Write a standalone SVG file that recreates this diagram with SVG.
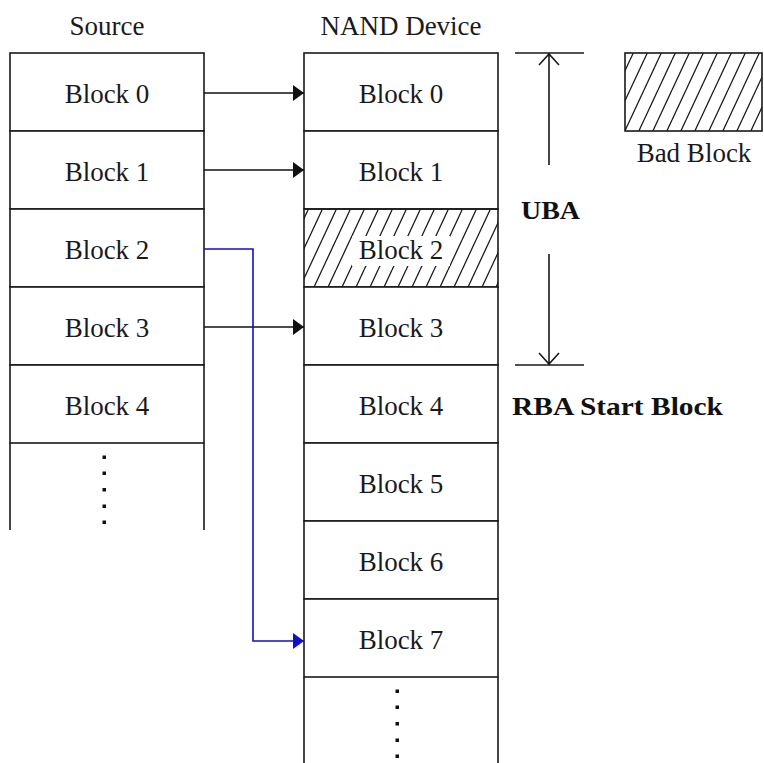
<svg xmlns="http://www.w3.org/2000/svg" width="764" height="763" viewBox="0 0 764 763">
<style>
  .box { fill: #fff; stroke: #1a1a1a; stroke-width: 1.6; }
  .ln { stroke: #1a1a1a; stroke-width: 1.6; fill: none; }
  .t { font-family: "Liberation Serif", "DejaVu Serif", serif; font-size: 27px; fill: #1a1a1a; text-anchor: middle; }
  .b { font-family: "Liberation Serif", "DejaVu Serif", serif; font-size: 25px; font-weight: bold; fill: #111; }
  .conn { stroke: #111; stroke-width: 1.6; fill: none; }
  .blue { stroke: #1010c8; stroke-width: 1.6; fill: none; }
  .dot { fill: #111; }
</style>
<defs>
  <pattern id="hatch" patternUnits="userSpaceOnUse" width="14" height="30">
    <path d="M0,30 L14,0 M-14,30 L0,0 M14,30 L28,0" stroke="#1a1a1a" stroke-width="1.3"/>
  </pattern>
  <marker id="ah" viewBox="0 0 11 16" refX="11" refY="8" markerUnits="userSpaceOnUse" markerWidth="11" markerHeight="16" orient="auto">
    <path d="M0,0 L11,8 L0,16 Z" fill="#111"/>
  </marker>
  <marker id="ahb" viewBox="0 0 11 16" refX="11" refY="8" markerUnits="userSpaceOnUse" markerWidth="11" markerHeight="16" orient="auto">
    <path d="M0,0 L11,8 L0,16 Z" fill="#1010c8"/>
  </marker>
</defs>
<rect width="764" height="763" fill="#fff"/>

<text class="t" x="107" y="35">Source</text>
<text class="t" x="401" y="35">NAND Device</text>

<g id="source">
  <g id="src-block0"><rect class="box" x="10" y="53" width="194" height="78"/><text class="t" x="107" y="103">Block 0</text></g>
  <g id="src-block1"><rect class="box" x="10" y="131" width="194" height="78"/><text class="t" x="107" y="181">Block 1</text></g>
  <g id="src-block2"><rect class="box" x="10" y="209" width="194" height="78"/><text class="t" x="107" y="259">Block 2</text></g>
  <g id="src-block3"><rect class="box" x="10" y="287" width="194" height="78"/><text class="t" x="107" y="337">Block 3</text></g>
  <g id="src-block4"><rect class="box" x="10" y="365" width="194" height="78"/><text class="t" x="107" y="415">Block 4</text></g>
  <g id="src-more">
    <path class="ln" d="M10,443 V530 M204,443 V530"/>
    <rect class="dot" x="102.5" y="455.5" width="3.5" height="3.5"/>
    <rect class="dot" x="102.5" y="471.5" width="3.5" height="3.5"/>
    <rect class="dot" x="102.5" y="488" width="3.5" height="3.5"/>
    <rect class="dot" x="102.5" y="504.5" width="3.5" height="3.5"/>
    <rect class="dot" x="102.5" y="520.5" width="3.5" height="3.5"/>
  </g>
</g>

<g id="nand">
  <g id="nand-block0"><rect class="box" x="304" y="53" width="194" height="78"/><text class="t" x="401" y="103">Block 0</text></g>
  <g id="nand-block1"><rect class="box" x="304" y="131" width="194" height="78"/><text class="t" x="401" y="181">Block 1</text></g>
  <g id="nand-block2">
    <rect x="304" y="209" width="194" height="78" fill="url(#hatch)"/>
    <rect x="352" y="236" width="98" height="30" fill="#fff"/>
    <rect x="304" y="209" width="194" height="78" fill="none" stroke="#1a1a1a" stroke-width="1.6"/>
    <text class="t" x="401" y="259">Block 2</text>
  </g>
  <g id="nand-block3"><rect class="box" x="304" y="287" width="194" height="78"/><text class="t" x="401" y="337">Block 3</text></g>
  <g id="nand-block4"><rect class="box" x="304" y="365" width="194" height="78"/><text class="t" x="401" y="415">Block 4</text></g>
  <g id="nand-block5"><rect class="box" x="304" y="443" width="194" height="78"/><text class="t" x="401" y="493">Block 5</text></g>
  <g id="nand-block6"><rect class="box" x="304" y="521" width="194" height="78"/><text class="t" x="401" y="571">Block 6</text></g>
  <g id="nand-block7"><rect class="box" x="304" y="599" width="194" height="78"/><text class="t" x="401" y="649">Block 7</text></g>
  <g id="nand-more">
    <path class="ln" d="M304,677 V763 M498,677 V763"/>
    <rect class="dot" x="395.5" y="689.5" width="3.5" height="3.5"/>
    <rect class="dot" x="395.5" y="705.5" width="3.5" height="3.5"/>
    <rect class="dot" x="395.5" y="722" width="3.5" height="3.5"/>
    <rect class="dot" x="395.5" y="738.5" width="3.5" height="3.5"/>
    <rect class="dot" x="395.5" y="754.5" width="3.5" height="3.5"/>
  </g>
</g>

<g id="connectors">
  <path class="conn" d="M204,93 H304" marker-end="url(#ah)"/>
  <path class="conn" d="M204,170 H304" marker-end="url(#ah)"/>
  <path class="conn" d="M204,327 H304" marker-end="url(#ah)"/>
  <path class="blue" d="M204,249 H253 V641 H304" marker-end="url(#ahb)"/>
</g>

<g id="uba">
  <path class="ln" d="M515,53 H584 M549,53 V165 M539,65 L549,54 L559,65"/>
  <path class="ln" d="M515,365 H584 M549,254 V364 M539,353 L549,364 L559,353"/>
  <text class="b" x="521" y="219" textLength="59" lengthAdjust="spacingAndGlyphs">UBA</text>
</g>

<g id="rba-label">
  <text class="b" x="512" y="415" textLength="211" lengthAdjust="spacingAndGlyphs">RBA Start Block</text>
</g>

<g id="legend">
  <rect x="625" y="53" width="137" height="78" fill="url(#hatch)"/>
  <rect x="625" y="53" width="137" height="78" fill="none" stroke="#1a1a1a" stroke-width="1.6"/>
  <text class="t" x="694" y="162">Bad Block</text>
</g>
</svg>
